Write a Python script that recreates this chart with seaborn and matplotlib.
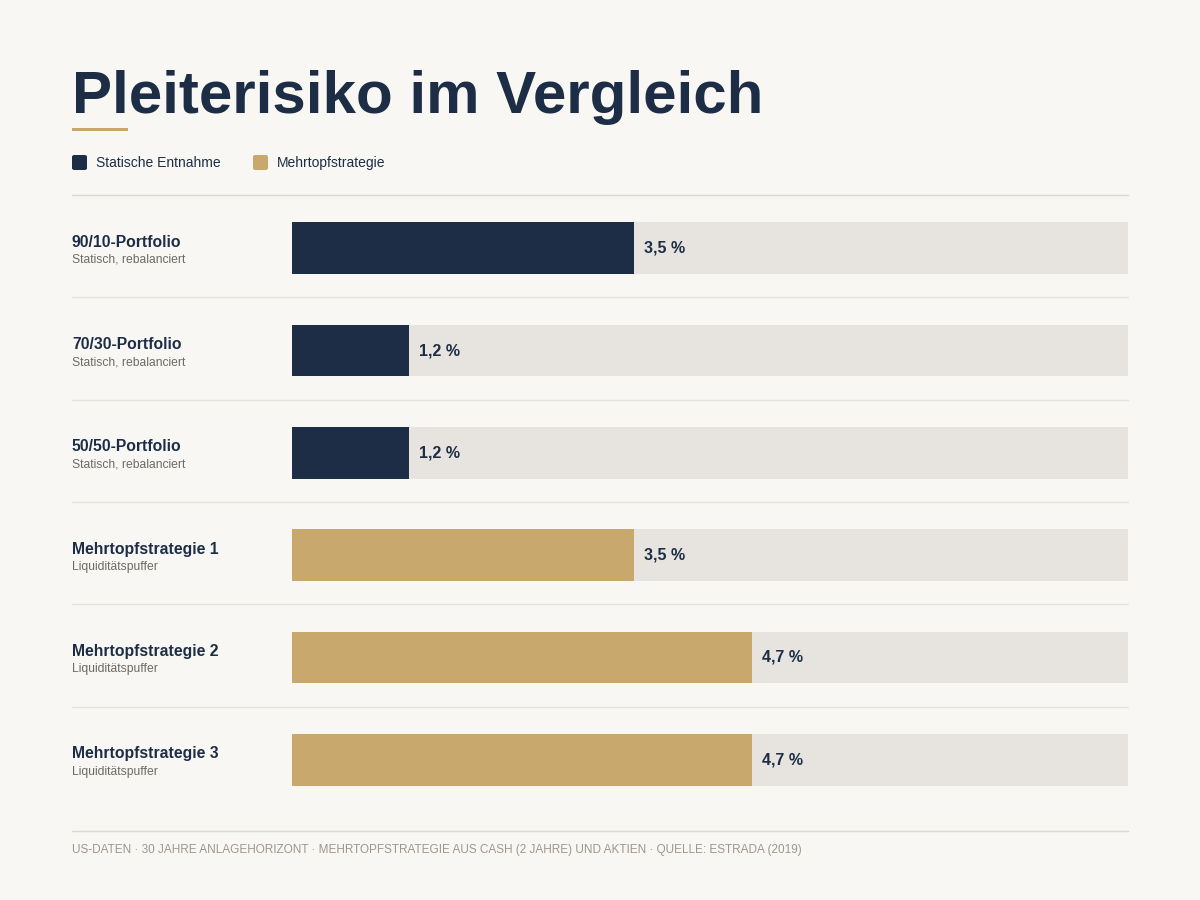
import matplotlib.pyplot as plt
import matplotlib.transforms as mtransforms
from matplotlib.patches import FancyBboxPatch, Rectangle
from matplotlib.lines import Line2D
import pandas as pd
import seaborn as sns

# data
names = ["90/10-Portfolio", "70/30-Portfolio", "50/50-Portfolio",
         "Mehrtopfstrategie 1", "Mehrtopfstrategie 2", "Mehrtopfstrategie 3"]
subtitles = ["Statisch, rebalanciert", "Statisch, rebalanciert", "Statisch, rebalanciert",
             "Liquiditätspuffer", "Liquiditätspuffer", "Liquiditätspuffer"]
values = [3.5, 1.2, 1.2, 3.5, 4.7, 4.7]
groups = ["Statische Entnahme"] * 3 + ["Mehrtopfstrategie"] * 3
scale_max = 8.55

NAVY = "#1c2d45"
GOLD = "#c8a86c"
TRACK = "#e7e4df"
BG = "#f8f7f4"
RULE = "#dcd8d1"

sns.set_theme(style="white")
plt.rcParams['font.family'] = ['Liberation Sans', 'DejaVu Sans']

df = pd.DataFrame({"name": names, "value": values, "group": groups,
                   "track": [scale_max] * len(names)})

fig = plt.figure(figsize=(12, 9), dpi=100, facecolor=BG)
ax = fig.add_axes([292 / 1200, 1 - 811 / 900, 836 / 1200, 614 / 900])
ax.set_facecolor(BG)

sns.barplot(data=df, x="track", y="name", color=TRACK, width=0.507, ax=ax,
            saturation=1, linewidth=0)
sns.barplot(data=df, x="value", y="name", hue="group",
            palette={"Statische Entnahme": NAVY, "Mehrtopfstrategie": GOLD},
            width=0.507, ax=ax, saturation=1, dodge=False, legend=False,
            linewidth=0)

ax.set_xlim(0, scale_max)
ax.set_ylim(len(names) - 0.5, -0.5)
ax.set_xlabel("")
ax.set_ylabel("")
ax.set_xticks([])
ax.set_yticks([])
for s in ax.spines.values():
    s.set_visible(False)

left = (72 - 292) / 836
trans = mtransforms.blended_transform_factory(ax.transAxes, ax.transData)
for i, (n, sub, v) in enumerate(zip(names, subtitles, values)):
    ax.text(left, i - 0.06, n, transform=trans, fontsize=11.3, fontweight="bold",
            color=NAVY, va="center", ha="left")
    ax.text(left, i + 0.115, sub, transform=trans, fontsize=8.7,
            color="#6e6b66", va="center", ha="left")
    ax.annotate(f"{v:.1f} %".replace(".", ","), xy=(v, i), xytext=(7.2, 0),
                textcoords="offset points", fontsize=11.5, fontweight="bold",
                color=NAVY, va="center", ha="left")
    if i < len(names) - 1:
        ax.axhline(i + 0.48, xmin=left, xmax=1, color="#e6e2dc", lw=1,
                   clip_on=False)

# header
fig.text(72 / 1200, 1 - 113 / 900, "Pleiterisiko im Vergleich", fontsize=43.2,
         fontweight="bold", color=NAVY, va="baseline", ha="left")
fig.add_artist(Rectangle((72 / 1200, 1 - 131 / 900), 56 / 1200, 3 / 900,
                         transform=fig.transFigure, color=GOLD, lw=0))

# legend
for x0, label, c in [(72, "Statische Entnahme", NAVY), (253, "Mehrtopfstrategie", GOLD)]:
    fig.add_artist(FancyBboxPatch((x0 / 1200, 1 - 170 / 900), 15 / 1200, 15 / 900,
                                  boxstyle="round,pad=0,rounding_size=0.002",
                                  transform=fig.transFigure, color=c, lw=0))
    fig.text((x0 + 24) / 1200, 1 - 163 / 900, label, fontsize=10, color=NAVY,
             va="center", ha="left")

# rules
for yy in (195, 831):
    fig.add_artist(Line2D([72 / 1200, 1128 / 1200], [1 - yy / 900] * 2,
                          transform=fig.transFigure, color=RULE, lw=1))

fig.text(72 / 1200, 1 - 850 / 900,
         "US-DATEN · 30 JAHRE ANLAGEHORIZONT · MEHRTOPFSTRATEGIE AUS CASH (2 JAHRE) UND AKTIEN · QUELLE: ESTRADA (2019)",
         fontsize=8.5, color="#a0968a", va="center", ha="left")

fig.savefig("out.png", dpi=100, facecolor=BG)
